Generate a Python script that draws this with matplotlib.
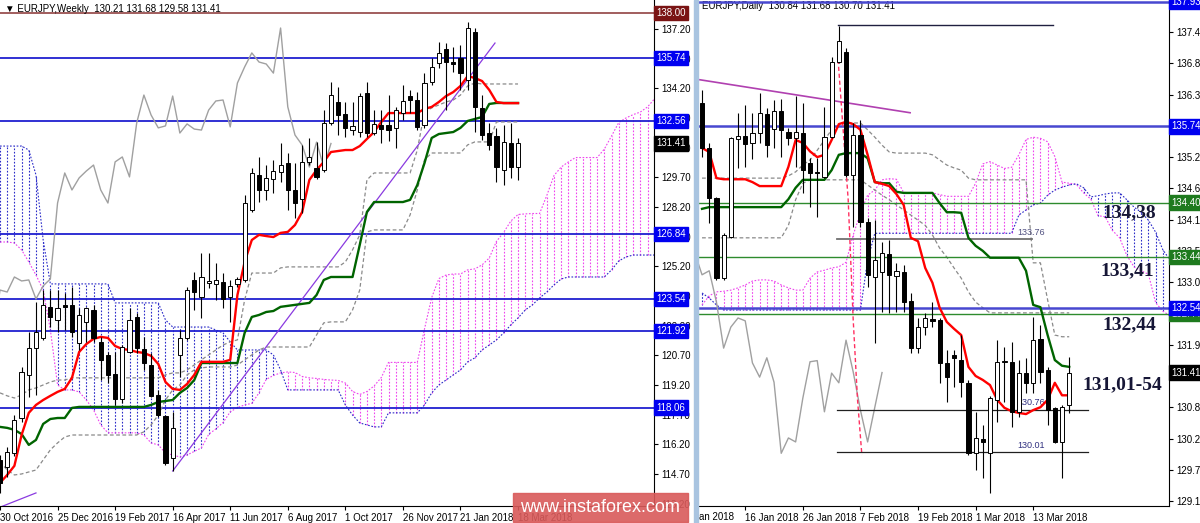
import numpy as np
import matplotlib.pyplot as plt
import matplotlib.transforms as mtransforms
from matplotlib.patches import Rectangle

plt.rcParams['font.family'] = ['Liberation Sans', 'DejaVu Sans']

# ---------------- weekly EURJPY, one value per bar (30 Oct 2016 .. 11 Mar 2018)
w_open = [115.41, 115.06, 115.76, 117.53, 119.71, 121.07, 121.58, 123.15, 122.49, 123.25,
          123.25, 121.32, 122.39, 122.99, 121.38, 120.72, 119.76, 118.49, 120.87, 122.64,
          121.02, 120.21, 118.70, 117.63, 115.51, 120.72, 121.58, 124.51, 123.65, 124.36,
          124.31, 124.41, 123.65, 124.31, 124.51, 128.05, 129.82, 129.06, 129.62, 129.97,
          130.42, 129.06, 128.60, 130.48, 130.17, 130.07, 132.45, 133.51, 132.90, 132.09,
          131.99, 133.96, 131.94, 132.35, 132.35, 132.20, 132.95, 133.81, 133.61, 132.35,
          134.52, 135.48, 136.19, 135.53, 135.73, 134.62, 137.05, 133.20, 131.94, 131.79,
          130.07, 131.43, 130.21]
w_high = [115.66, 116.07, 117.68, 120.11, 121.88, 123.40, 124.00, 124.00, 124.00, 123.85,
          124.16, 123.10, 123.15, 123.25, 121.63, 120.87, 120.87, 121.22, 123.10, 122.84,
          121.63, 120.82, 118.95, 117.68, 117.84, 121.98, 124.16, 124.92, 125.87, 125.87,
          125.37, 124.86, 124.51, 124.66, 128.81, 130.17, 130.73, 130.32, 130.57, 131.43,
          130.93, 130.42, 131.33, 131.69, 131.48, 133.10, 134.52, 134.27, 133.51, 133.51,
          133.97, 134.52, 133.10, 133.10, 133.86, 133.26, 134.37, 134.12, 134.01, 134.97,
          135.73, 136.54, 136.49, 136.29, 136.39, 137.55, 137.25, 133.86, 132.45, 132.20,
          132.35, 132.45, 131.68]
w_low = [113.74, 114.55, 115.61, 117.33, 118.59, 118.70, 121.48, 122.13, 121.88, 121.98,
         121.63, 120.97, 121.38, 121.38, 119.45, 119.30, 118.19, 118.29, 120.82, 120.82,
         119.96, 118.59, 117.58, 115.16, 114.85, 119.60, 121.48, 123.00, 122.59, 124.10,
         123.50, 123.10, 122.39, 124.16, 124.41, 127.95, 128.45, 128.56, 128.91, 129.46,
         128.05, 127.64, 127.90, 130.32, 129.60, 129.97, 132.35, 131.84, 131.74, 131.84,
         131.74, 131.74, 131.84, 131.44, 131.54, 131.18, 132.60, 132.95, 132.09, 132.20,
         134.37, 135.23, 133.10, 135.02, 134.12, 134.12, 131.99, 131.59, 131.08, 129.46,
         129.31, 129.67, 129.58]
w_close = [114.25, 115.81, 117.43, 119.86, 121.07, 121.88, 123.25, 122.64, 123.10, 123.15,
           121.88, 122.74, 123.10, 121.58, 120.47, 119.71, 118.49, 121.12, 122.49, 121.07,
           120.31, 118.64, 117.68, 115.26, 117.03, 121.58, 124.00, 123.90, 124.66, 124.46,
           124.51, 123.55, 124.21, 124.56, 128.40, 129.92, 129.06, 129.67, 130.02, 130.32,
           129.06, 128.40, 130.48, 130.73, 129.72, 132.45, 133.86, 132.85, 132.20, 132.30,
           133.81, 131.94, 132.40, 132.14, 132.09, 133.10, 133.56, 133.61, 132.25, 134.47,
           135.28, 135.99, 135.53, 135.43, 134.97, 137.25, 133.26, 131.84, 131.33, 130.22,
           131.48, 130.22, 131.41]
w_tenkan = [114.25, 114.65, 115.11, 116.67, 117.79, 118.19, 118.44, 118.65, 118.85, 119.00,
            119.56, 120.87, 121.27, 121.53, 121.63, 121.58, 121.17, 121.02, 120.97, 120.87,
            120.82, 120.67, 120.26, 119.35, 119.00, 118.95, 119.25, 119.71, 120.37, 120.37,
            120.37, 120.37, 120.47, 123.75, 125.42, 126.53, 126.79, 126.73, 126.68, 126.89,
            126.94, 127.29, 127.95, 129.57, 130.07, 130.48, 130.98, 131.03, 131.08, 131.08,
            131.28, 131.64, 131.99, 132.50, 132.95, 132.95, 132.95, 132.95, 132.95, 133.16,
            133.26, 133.51, 133.81, 134.01, 134.32, 134.82, 134.72, 134.57, 134.12, 133.51,
            133.45, 133.45, 133.45]
w_kijun = [117.08, 117.03, 116.93, 116.72, 116.17, 116.42, 117.23, 117.48, 117.53, 117.53,
           118.04, 118.09, 118.09, 118.09, 118.09, 118.09, 118.09, 118.09, 118.09, 118.09,
           118.09, 118.19, 118.34, 118.39, 118.44, 118.80, 119.05, 119.45, 120.31, 120.31,
           120.31, 120.31, 120.31, 120.31, 121.83, 122.64, 122.74, 122.89, 122.94, 123.15,
           123.20, 123.25, 123.30, 123.35, 123.75, 124.51, 124.66, 124.66, 124.66, 124.66,
           126.28, 127.95, 128.45, 128.45, 128.45, 128.45, 128.45, 128.56, 129.31, 130.42,
           131.69, 131.89, 131.94, 131.99, 132.20, 132.55, 132.65, 132.75, 133.41, 133.46,
           133.46, 133.46, 133.46]
w_span_a = [126.43, 126.43, 126.38, 126.03, 125.42, 124.76, 124.00, 121.98, 119.20, 118.95,
            118.95, 118.85, 118.44, 117.94, 117.18, 116.78, 116.78, 116.78, 116.78, 116.78,
            116.67, 116.27, 116.17, 115.76, 115.66, 115.56, 115.66, 115.84, 116.02, 116.70,
            116.98, 117.30, 117.84, 118.06, 118.19, 118.27, 118.80, 119.48, 119.68, 119.81,
            119.86, 119.83, 119.63, 119.56, 119.53, 119.48, 119.45, 119.43, 119.30, 118.87,
            118.72, 118.87, 119.15, 119.58, 120.34, 120.34, 120.34, 120.34, 120.34, 122.03,
            123.62, 124.58, 124.76, 124.81, 124.81, 125.02, 125.07, 125.27, 125.62, 126.46,
            126.91, 127.49, 127.82, 127.85, 127.87, 127.87, 128.78, 129.79, 130.22, 130.48,
            130.70, 130.70, 130.70, 130.70, 131.13, 131.79, 132.47, 132.70, 132.87, 133.00,
            133.26, 133.68]
w_span_b = [131.28, 131.28, 131.28, 131.28, 131.08, 129.82, 126.53, 124.31, 124.31, 124.31,
            124.31, 124.31, 124.31, 124.31, 124.31, 124.31, 123.35, 123.35, 123.35, 123.35,
            123.35, 123.35, 123.35, 122.49, 122.13, 122.13, 122.13, 122.13, 122.13, 122.13,
            121.98, 121.83, 121.38, 120.97, 120.97, 120.97, 120.97, 120.97, 120.72, 119.96,
            118.95, 118.95, 118.95, 118.95, 118.95, 118.95, 118.95, 118.95, 118.19, 117.68,
            117.28, 117.18, 117.08, 117.08, 117.79, 117.79, 117.79, 117.79, 117.79, 118.19,
            118.80, 119.20, 119.45, 119.71, 119.96, 120.37, 120.57, 120.97, 121.22, 121.48,
            121.83, 122.24, 122.59, 122.99, 123.25, 123.60, 123.90, 124.26, 124.56, 124.66,
            124.66, 124.66, 124.66, 124.66, 124.66, 125.02, 125.47, 125.67, 125.77, 125.77,
            125.77, 125.77]
w_dash_up = [118.80, 118.65, 118.54, 118.70, 118.95, 119.05, 119.20, 119.35, 119.45, 119.45,
             119.56, 119.56, 119.56, 119.56, 119.56, 119.56, 119.56, 119.56, 119.56, 119.56,
             119.56, 119.56, 119.56, 119.71, 119.81, 119.81, 119.96, 120.21, 120.47, 120.72,
             120.97, 121.22, 121.38, 121.48, 123.50, 124.86, 124.86, 124.86, 124.86, 125.12,
             125.17, 125.17, 125.17, 125.17, 125.17, 125.17, 125.17, 125.17, 125.42, 126.03,
             126.79, 129.57, 129.92, 129.92, 129.92, 129.92, 129.92, 129.92, 131.08, 133.00,
             133.21, 133.36, 133.51, 133.61, 133.86, 134.32, 134.47, 134.42, 134.42, 134.42,
             134.42, 134.42, 134.42]
w_dash_low = [115.31, 114.90, 114.65, 114.70, 114.80, 114.90, 115.41, 115.92, 116.27, 116.57,
              116.67, 116.67, 116.67, 116.67, 116.67, 116.67, 116.67, 116.67, 116.67, 116.67,
              116.83, 117.18, 117.68, 118.44, 118.95, 119.20, 119.71, 119.96, 120.06, 120.11,
              120.11, 120.11, 120.11, 120.21, 120.47, 120.72, 120.97, 121.12, 121.12, 121.12,
              121.12, 121.12, 121.12, 121.12, 121.73, 122.34, 122.39, 122.39, 122.39, 122.99,
              124.00, 126.94, 127.04, 127.04, 127.04, 127.04, 127.04, 127.80, 129.06, 130.58,
              130.93, 130.93, 130.93, 130.93, 130.93, 131.34, 131.49, 131.49, 131.49, 132.50,
              132.50, 132.50, 132.50]
w_levels = [138.00, 135.74, 132.56, 126.84, 123.54, 121.92, 118.06]
w_dates = ['30 Oct 2016', '25 Dec 2016', '19 Feb 2017', '16 Apr 2017', '11 Jun 2017',
           '6 Aug 2017', '1 Oct 2017', '26 Nov 2017', '21 Jan 2018', '18 Mar 2018']
w_date_bars = [0, 8, 16, 24, 32, 40, 48, 56, 64, 72]

# ---------------- daily EURJPY
d_open = [136.15, 135.36, 134.48, 133.07, 133.79, 135.52, 135.57, 135.45, 135.62, 135.96,
          135.69, 136.01, 135.64, 135.54, 135.62, 135.10, 134.94, 134.85, 135.55, 136.87,
          137.05, 134.88, 135.59, 134.06, 133.09, 133.18, 133.49, 133.11, 133.18, 132.67,
          131.84, 132.21, 132.35, 132.33, 131.58, 131.72, 131.63, 131.23, 129.99, 130.24,
          129.99, 130.93, 131.60, 131.60, 130.72, 131.40, 131.23, 132.00, 131.45, 130.79,
          130.19, 130.84]
d_high = [136.38, 135.45, 134.50, 133.86, 135.55, 135.97, 136.12, 135.97, 136.33, 136.06,
          136.20, 136.22, 135.71, 136.27, 136.15, 135.19, 135.19, 136.08, 136.96, 137.51,
          137.12, 135.80, 135.85, 134.13, 134.10, 133.71, 133.74, 133.34, 133.30, 132.81,
          132.37, 132.46, 132.65, 132.37, 131.81, 131.81, 132.07, 131.28, 130.72, 130.49,
          131.00, 131.98, 131.86, 131.95, 131.63, 131.67, 132.39, 132.25, 131.51, 130.81,
          130.84, 131.68]
d_low = [135.20, 134.04, 133.04, 133.04, 133.78, 135.01, 135.03, 135.17, 135.45, 135.20,
         135.36, 135.20, 135.41, 135.03, 134.57, 134.32, 134.15, 134.83, 135.54, 136.85,
         134.85, 133.97, 133.97, 132.92, 131.93, 132.48, 132.46, 132.48, 132.48, 131.75,
         131.75, 132.07, 132.21, 131.23, 130.89, 131.16, 130.98, 129.96, 129.70, 129.55,
         129.29, 130.54, 130.89, 130.45, 130.63, 131.05, 131.05, 131.23, 130.49, 130.17,
         129.55, 130.70]
d_close = [135.36, 134.48, 133.07, 133.83, 135.54, 135.57, 135.43, 135.62, 135.97, 135.41,
           136.01, 135.68, 135.54, 135.64, 134.97, 134.92, 134.92, 135.55, 136.87, 137.24,
           134.89, 135.59, 134.06, 133.13, 133.39, 133.51, 133.13, 133.20, 132.65, 131.84,
           132.21, 132.37, 132.32, 131.58, 131.33, 131.67, 131.24, 129.99, 130.26, 130.19,
           130.96, 131.60, 131.62, 130.72, 131.40, 131.23, 131.98, 131.42, 130.75, 130.19,
           130.80, 131.41]
d_tenkan = [135.36, 135.29, 134.83, 134.81, 134.81, 134.81, 134.81, 134.76, 134.69, 134.69,
            134.69, 134.69, 135.03, 135.50, 135.45, 135.30, 135.20, 135.24, 135.50, 135.78,
            135.82, 135.78, 135.68, 135.24, 134.76, 134.73, 134.69, 134.55, 134.36, 133.78,
            133.72, 133.25, 132.99, 132.55, 132.30, 132.18, 132.07, 131.51, 131.35, 131.28,
            131.19, 130.93, 130.79, 130.73, 130.70, 130.68, 130.75, 130.80, 130.93, 131.23,
            131.01, 131.01]
d_kijun = [134.29, 134.32, 134.32, 134.32, 134.32, 134.32, 134.32, 134.32, 134.32, 134.32,
           134.32, 134.32, 134.46, 134.66, 134.80, 134.80, 134.80, 134.80, 134.97, 135.24,
           135.27, 135.27, 135.27, 135.18, 134.76, 134.74, 134.74, 134.59, 134.57, 134.57,
           134.57, 134.57, 134.57, 134.39, 134.23, 134.23, 134.22, 133.78, 133.64, 133.55,
           133.43, 133.43, 133.43, 133.43, 133.43, 133.20, 132.60, 132.56, 132.07, 131.63,
           131.53, 131.51]
d_span_a = [132.60, 132.76, 132.83, 132.84, 132.86, 132.90, 132.95, 133.02, 133.04, 133.04,
            133.02, 132.95, 132.90, 132.86, 132.86, 133.07, 133.18, 133.21, 133.25, 133.27,
            133.35, 133.83, 134.22, 134.53, 134.62, 134.80, 134.82, 134.81, 134.58, 134.57,
            134.57, 134.57, 134.57, 134.54, 134.51, 134.51, 134.51, 134.51, 134.74, 135.08,
            135.12, 135.06, 135.00, 135.02, 135.24, 135.51, 135.55, 135.53, 135.47, 135.21,
            134.76, 134.74, 134.72, 134.57, 134.46, 134.17, 134.15, 133.91, 133.78, 133.47,
            133.27, 133.20, 133.14, 132.64, 132.49, 132.41]
d_span_b = [132.81, 132.72, 132.60, 132.51, 132.51, 132.51, 132.51, 132.51, 132.51, 132.51,
            132.51, 132.51, 132.51, 132.51, 132.51, 132.51, 132.51, 132.51, 132.51, 132.51,
            132.51, 132.51, 132.51, 133.39, 133.86, 133.86, 133.86, 133.86, 133.86, 133.86,
            133.86, 133.86, 133.86, 133.86, 133.86, 133.86, 133.86, 133.86, 133.86, 133.86,
            133.86, 133.86, 133.86, 133.86, 134.18, 134.27, 134.36, 134.39, 134.53, 134.62,
            134.67, 134.71, 134.73, 134.66, 134.50, 134.52, 134.55, 134.57, 134.57, 134.45,
            134.32, 134.23, 134.09, 133.88, 133.57, 133.39]
d_dash_up = [134.83, 134.83, 134.83, 134.83, 134.83, 134.83, 134.83, 134.83, 134.83, 134.83,
             134.83, 134.83, 134.87, 134.94, 135.06, 135.15, 135.32, 135.50, 135.68, 135.76,
             135.80, 135.80, 135.80, 135.68, 135.55, 135.41, 135.29, 135.27, 135.27, 135.27,
             135.27, 135.27, 135.24, 135.15, 135.06, 135.01, 134.97, 134.83, 134.80, 134.80,
             134.80, 134.80, 134.80, 134.80, 134.80, 134.80, 133.34, 133.34, 132.69, 132.07,
             132.04, 132.04]
d_dash_low = [133.78, 133.78, 133.78, 133.78, 133.78, 133.78, 133.78, 133.78, 133.78, 133.78,
              133.78, 133.78, 134.00, 134.45, 134.74, 134.80, 134.80, 134.80, 134.80, 134.80,
              134.80, 134.80, 134.80, 134.71, 134.62, 134.53, 134.45, 134.36, 134.27, 134.18,
              134.09, 134.00, 133.83, 133.60, 133.44, 133.25, 133.07, 132.83, 132.65, 132.55,
              132.46, 132.46, 132.46, 132.46, 132.46, 132.46, 132.46, 132.46, 132.46, 132.46,
              132.46, 132.46]
d_levels_blue = [137.93, 135.74, 132.54]
d_levels_green = [134.40, 133.44, 132.44]
d_notes = ['134,38', '133,41', '132,44', '131,01-54']
d_dates = ['16 Jan 2018', '26 Jan 2018', '7 Feb 2018', '19 Feb 2018', '1 Mar 2018', '13 Mar 2018']
d_date_bars = [6, 14, 22, 30, 38, 46]

BLUE = '#2020d0'
UPK = '#ee44ee'
DNK = '#2a2ac8'
DOT = (0, (1.5, 1.5))
DASH = (0, (3, 2))


def draw_candles(ax, o, h, l, c, width):
    o, h, l, c = map(np.asarray, (o, h, l, c))
    x = np.arange(len(o))
    ax.vlines(x, l, h, color='black', lw=0.8, zorder=6)
    cols = np.where(c >= o, 'white', 'black')
    ax.bar(x, np.abs(c - o), width, bottom=np.minimum(o, c), color=cols,
           edgecolor='black', lw=0.7, zorder=7)


def draw_cloud(ax, a, b):
    a, b = np.asarray(a), np.asarray(b)
    x = np.arange(len(a))
    cols = [UPK if ai >= bi else DNK for ai, bi in zip(a, b)]
    ax.vlines(x, np.minimum(a, b), np.maximum(a, b), colors=cols, linestyles=DOT, lw=0.8, zorder=1)
    ax.plot(x, a, color=UPK, ls=DOT, lw=0.8, zorder=1)
    ax.plot(x, b, color=DNK, ls=DOT, lw=0.8, zorder=1)


def price_label(ax, y, txt, fc, tc='white'):
    tr = mtransforms.blended_transform_factory(ax.transAxes, ax.transData)
    ax.text(1.004, y, txt, transform=tr, ha='left', va='center', fontsize=7, color=tc,
            bbox=dict(boxstyle='square,pad=0.22', fc=fc, ec=fc), zorder=20, clip_on=False)


def style_axis(ax, ticks):
    for s in ['top', 'left']:
        ax.spines[s].set_visible(False)
    ax.spines['right'].set_linewidth(0.8)
    ax.spines['bottom'].set_linewidth(0.8)
    ax.yaxis.tick_right()
    ax.set_yticks(ticks)
    ax.set_yticklabels(['%.2f' % t for t in ticks])
    ax.tick_params(axis='y', direction='out', length=3, pad=2, labelsize=7)
    ax.tick_params(axis='x', direction='out', length=3, pad=2, labelsize=7)


fig = plt.figure(figsize=(12, 5.23), dpi=100)
bottom = 1 - 506 / 523
height = 506 / 523

# ================= weekly panel
axw = fig.add_axes([0, bottom, 654 / 1200, height])
nw = len(w_close)
draw_cloud(axw, w_span_a, w_span_b)
for lv in w_levels:
    axw.axhline(lv, color='#9a5050' if lv == 138.00 else BLUE, lw=1.3, zorder=2)
axw.plot(np.arange(nw), w_dash_up, color='#8a8a8a', ls=DASH, lw=0.9, zorder=3)
axw.plot(np.arange(nw), w_dash_low, color='#8a8a8a', ls=DASH, lw=0.9, zorder=3)
axw.plot(np.arange(nw) - 26, w_close, color='#a0a0a0', lw=1.0, zorder=3)
axw.plot([24, 68.8], [114.85, 136.49], color='#8a3ae0', lw=0.9, zorder=3)
axw.plot([0.07, 5], [113.03, 113.74], color='#8a3ae0', lw=0.9, zorder=3)
axw.plot(np.arange(nw), w_kijun, color='#006400', lw=1.7, zorder=4)
axw.plot(np.arange(nw), w_tenkan, color='#ff0000', lw=1.7, zorder=4)
draw_candles(axw, w_open, w_high, w_low, w_close, 0.58)
axw.set_xlim(0.07, 90.9)
axw.set_ylim(113.08, 138.666)
style_axis(axw, np.arange(113.2, 137.3, 1.5))
axw.set_xticks(w_date_bars)
axw.set_xticklabels(w_dates, ha='left')
for lv in w_levels:
    price_label(axw, lv, '%.2f' % lv, '#7a1414' if lv == 138.00 else '#0000f0')
price_label(axw, w_close[-1], '%.2f' % w_close[-1], 'black')
axw.text(0.008, 0.992, '\u25bc EURJPY,Weekly  130.21 131.68 129.58 131.41', transform=axw.transAxes,
         fontsize=7, va='top', ha='left', zorder=30)

# ================= daily panel
axd = fig.add_axes([698 / 1200, bottom, (1169 - 698) / 1200, height])
nd = len(d_close)
draw_cloud(axd, d_span_a, d_span_b)
axd.plot(np.arange(nd), d_dash_up, color='#8a8a8a', ls=DASH, lw=0.9, zorder=2)
axd.plot(np.arange(nd), d_dash_low, color='#8a8a8a', ls=DASH, lw=0.9, zorder=2)
for lv in d_levels_green:
    axd.axhline(lv, color='#2e8b2e', lw=1.0, zorder=2)
for lv in d_levels_blue:
    axd.axhline(lv, color='#4848d0', lw=1.8, zorder=2)
axd.plot(np.arange(nd) - 26, d_close, color='#a0a0a0', lw=1.0, zorder=3)
axd.plot([-0.3, 28.9], [136.56, 135.98], color='#b040b0', lw=1.2, zorder=3)
axd.plot([18.9, 20.3, 21.0, 21.6, 22.2], [136.91, 134.45, 132.33, 130.93, 129.96],
         color='#ff3060', ls=DASH, lw=1.0, zorder=3)
axd.plot([18.9, 48.8], [137.52, 137.52], color='#202040', lw=1.0, zorder=3)
axd.plot([18.7, 45.8], [133.76, 133.76], color='#707070', lw=1.3, zorder=3)
axd.plot([18.75, 53.6], [130.76, 130.76], color='#202020', lw=0.9, zorder=3)
axd.plot([18.75, 53.6], [130.01, 130.01], color='#202020', lw=0.9, zorder=3)
axd.text(43.8, 133.80, '133.76', fontsize=6.5, color='#505080', va='bottom', zorder=3)
axd.text(43.8, 130.80, '130.76', fontsize=6.5, color='#303080', va='bottom', zorder=3)
axd.text(43.8, 130.05, '130.01', fontsize=6.5, color='#303080', va='bottom', zorder=3)
axd.plot(np.arange(nd), d_kijun, color='#006400', lw=1.7, zorder=4)
axd.plot(np.arange(nd), d_tenkan, color='#ff0000', lw=1.7, zorder=4)
draw_candles(axd, d_open, d_high, d_low, d_close, 0.58)
axd.set_xlim(-0.56, 64.86)
axd.set_ylim(129.063, 137.963)
style_axis(axd, np.arange(129.15, 138.0, 0.55))
axd.set_xticks(d_date_bars)
axd.set_xticklabels(d_dates, ha='left')
for lv in d_levels_green:
    price_label(axd, lv, '%.2f' % lv, '#1e7a1e')
for lv in d_levels_blue:
    price_label(axd, lv, '%.2f' % lv, '#0000f0')
price_label(axd, d_close[-1], '%.2f' % d_close[-1], 'black')
axd.text(0.008, 0.998, 'EURJPY,Daily  130.84 131.68 130.70 131.41', transform=axd.transAxes,
         fontsize=7, va='top', ha='left', zorder=1)
note_y = [134.22, 133.20, 132.26, 131.19]
note_x = [55.6, 55.4, 55.6, 52.9]
for t, xx, yy in zip(d_notes, note_x, note_y):
    axd.text(xx, yy, t, fontsize=14, fontweight='bold', family='Liberation Serif',
             color='#161636', va='center', ha='left', zorder=25)
# first date label is cut at the panel edge
clip = mtransforms.TransformedBbox(mtransforms.Bbox([[698 / 1200, 0], [1, 1]]), fig.transFigure)
tr = mtransforms.blended_transform_factory(axd.transData, axd.transAxes)
t0 = axd.text(-2.25, -0.012, '4 Jan 2018', transform=tr, fontsize=7, va='top', ha='left',
              clip_on=True)
t0.set_clip_box(clip)

# window frame strip between the charts
fig.patches.append(Rectangle((694 / 1200, 0), 4 / 1200, 1, transform=fig.transFigure,
                             color='#a9c4e0', zorder=0))

# watermark
fig.patches.append(Rectangle((513 / 1200, 1 / 523), 175 / 1200, 29 / 523, transform=fig.transFigure,
                             color='#d95a5a', alpha=0.9, zorder=50))
fig.text(600 / 1200, 1 - 508 / 523, 'www.instaforex.com', color='white', fontsize=13,
         ha='center', va='center', zorder=51)

fig.savefig('out.png', dpi=100)
